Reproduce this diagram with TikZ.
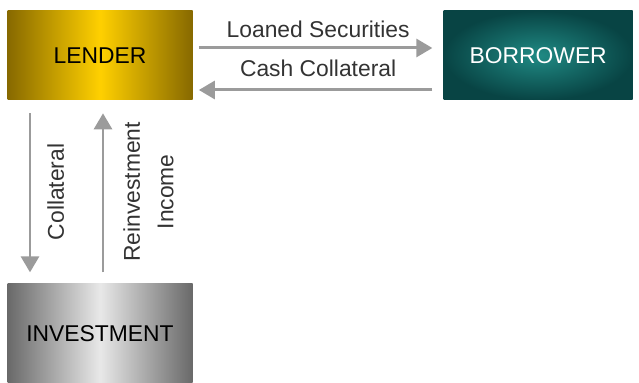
\documentclass[tikz,border=0pt]{standalone}
\usepackage{fontspec}
\setmainfont{Liberation Sans}
\usetikzlibrary{arrows.meta, positioning}
\definecolor{golddark}{RGB}{135,105,0}
\definecolor{goldlight}{RGB}{255,208,0}
\definecolor{tealdark}{RGB}{8,68,68}
\definecolor{teallight}{RGB}{32,138,132}
\definecolor{greydark}{RGB}{105,105,105}
\definecolor{greylight}{RGB}{232,232,232}
\definecolor{arrowgrey}{RGB}{155,155,155}
\tikzstyle{party} = [rectangle, minimum width=3.7cm, minimum height=1.78cm, text centered, font=\fontsize{13}{15}\selectfont]
\tikzstyle{lenderbox} = [party, left color=golddark, right color=golddark, middle color=goldlight]
\tikzstyle{borrowerbox} = [party, minimum width=3.78cm, inner color=teallight, outer color=tealdark, text=white]
\tikzstyle{investbox} = [party, minimum height=2cm, left color=greydark, right color=greydark, middle color=greylight]
\tikzstyle{arrow} = [arrowgrey, line width=1.7pt, -{Triangle[length=0.32cm, width=0.36cm]}]
\tikzstyle{flowlabel} = [font=\fontsize{13}{19}\selectfont, text=black!80, align=center]

\begin{document}
\begin{tikzpicture}
\useasboundingbox (0,0) rectangle (12.78,-7.66);

% Nodes
\node (lender) [lenderbox] at (2.0,-1.11) {LENDER};
\node (borrower) [borrowerbox, right=5.01cm of lender] {BORROWER};
\node (investment) [investbox, below=3.66cm of lender] {INVESTMENT};

% Arrows between lender and borrower
\draw [arrow, shorten <=0.12cm, shorten >=0.22cm] ([yshift=0.15cm]lender.east) -- node[flowlabel, above=0.06cm] {Loaned Securities} ([yshift=0.15cm]borrower.west);
\draw [arrow, shorten <=0.22cm, shorten >=0.12cm] ([yshift=-0.69cm]borrower.west) -- node[flowlabel, above=0.12cm] {Cash Collateral} ([yshift=-0.69cm]lender.east);

% Arrows between lender and investment
\draw [arrow, shorten <=0.26cm, shorten >=0.22cm] ([xshift=-1.4cm]lender.south) -- node[flowlabel, rotate=90, anchor=north, yshift=-0.2cm] {Collateral} ([xshift=-1.4cm]investment.north);
\draw [arrow, shorten <=0.22cm, shorten >=0.26cm] ([xshift=0.06cm]investment.north) -- node[flowlabel, rotate=90, anchor=north, yshift=-0.26cm] {Reinvestment\\Income} ([xshift=0.06cm]lender.south);

\end{tikzpicture}
\end{document}
